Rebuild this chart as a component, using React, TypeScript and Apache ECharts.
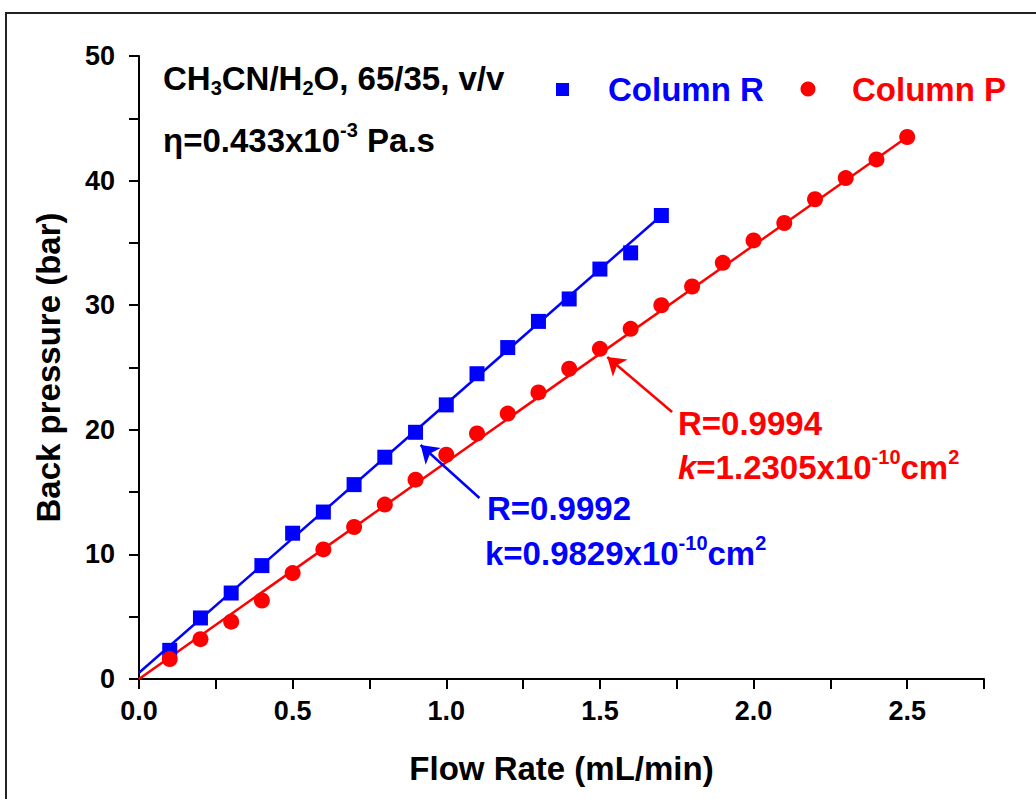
import React, { useEffect, useRef } from 'react';
import * as echarts from 'echarts';

// ---------- data ----------
const flowR = [0.1, 0.2, 0.3, 0.4, 0.5, 0.6, 0.7, 0.8, 0.9, 1.0, 1.1, 1.2, 1.3, 1.4, 1.5, 1.6, 1.7];
const pressureR = [2.3, 4.9, 6.9, 9.1, 11.7, 13.4, 15.6, 17.8, 19.8, 22.0, 24.5, 26.6, 28.7, 30.5, 32.9, 34.2, 37.2];

const flowP = [0.1, 0.2, 0.3, 0.4, 0.5, 0.6, 0.7, 0.8, 0.9, 1.0, 1.1, 1.2, 1.3, 1.4, 1.5, 1.6, 1.7, 1.8, 1.9, 2.0, 2.1, 2.2, 2.3, 2.4, 2.5];
const pressureP = [1.6, 3.2, 4.6, 6.3, 8.5, 10.4, 12.2, 14.0, 16.0, 18.0, 19.7, 21.3, 23.0, 24.9, 26.5, 28.1, 30.0, 31.5, 33.4, 35.2, 36.6, 38.5, 40.2, 41.7, 43.5];

// linear fit end points
const fitRFlow = [0, 1.7];
const fitRPressure = [0.5, 37.2];
const fitPFlow = [0, 2.5];
const fitPPressure = [0, 43.5];

const seriesNames = ['Column R', 'Column P'];

const BLUE = '#0000ff';
const RED = '#ff0000';
const FONT = '"Liberation Sans", Arial, Helvetica, sans-serif';
const TXT = 33;

const pairs = (xs: number[], ys: number[]) => xs.map((x, i) => [x, ys[i]]);

const base = (size: number, color: string) => ({
  fontSize: size,
  fontWeight: 'bold' as const,
  fontFamily: FONT,
  fill: color,
  color,
  lineHeight: 40,
});

const richSet = (color: string) => ({
  b: { ...base(TXT, color) },
  bi: { ...base(TXT, color), fontStyle: 'italic' as const },
  sup: { ...base(20, color), lineHeight: 18, verticalAlign: 'top' as const },
  sub: { ...base(20, color), lineHeight: 18, verticalAlign: 'bottom' as const },
});

const richText = (x: number, y: number, text: string, color: string) => ({
  type: 'text',
  x,
  y,
  z: 100,
  style: {
    text,
    fill: color,
    fontSize: TXT,
    fontWeight: 'bold',
    fontFamily: FONT,
    align: 'left',
    verticalAlign: 'middle',
    textAlign: 'left',
    textVerticalAlign: 'middle',
    rich: richSet(color),
  },
});

export default function App() {
  const ref = useRef<HTMLDivElement>(null);

  useEffect(() => {
    if (!ref.current) return;
    const chart = echarts.init(ref.current, null, { renderer: 'svg' });

    const option: any = {
      animation: false,
      backgroundColor: '#ffffff',
      grid: { left: 139, right: 52, top: 56, bottom: 120, containLabel: false },
      xAxis: {
        type: 'value',
        min: 0,
        max: 2.75,
        interval: 0.25,
        name: 'Flow Rate (mL/min)',
        nameLocation: 'middle',
        nameGap: 73,
        nameTextStyle: { fontSize: 33, fontWeight: 'bold', color: '#000', fontFamily: FONT },
        axisLine: { show: true, onZero: false, lineStyle: { color: '#000', width: 2 } },
        axisTick: { show: true, inside: false, length: 10, lineStyle: { color: '#000', width: 2 } },
        axisLabel: {
          margin: 18,
          fontSize: 27,
          fontWeight: 'bold',
          color: '#000',
          fontFamily: FONT,
          formatter: (v: number) => (Math.abs(v * 2 - Math.round(v * 2)) < 1e-6 ? v.toFixed(1) : ''),
        },
        splitLine: { show: false },
      },
      yAxis: {
        type: 'value',
        min: 0,
        max: 50,
        interval: 5,
        name: 'Back pressure (bar)',
        nameLocation: 'middle',
        nameGap: 74,
        nameTextStyle: { fontSize: 33, fontWeight: 'bold', color: '#000', fontFamily: FONT },
        axisLine: { show: true, onZero: false, lineStyle: { color: '#000', width: 2 } },
        axisTick: { show: true, inside: false, length: 10, lineStyle: { color: '#000', width: 2 } },
        axisLabel: {
          margin: 24,
          fontSize: 27,
          fontWeight: 'bold',
          color: '#000',
          fontFamily: FONT,
          formatter: (v: number) => (Math.round(v) % 10 === 0 ? String(v) : ''),
        },
        splitLine: { show: false },
      },
      series: [
        {
          name: 'Fit R',
          type: 'line',
          data: pairs(fitRFlow, fitRPressure),
          showSymbol: false,
          symbol: 'none',
          lineStyle: { color: BLUE, width: 2.5 },
          z: 2,
        },
        {
          name: 'Fit P',
          type: 'line',
          data: pairs(fitPFlow, fitPPressure),
          showSymbol: false,
          symbol: 'none',
          lineStyle: { color: RED, width: 2.5 },
          z: 2,
        },
        {
          name: seriesNames[0],
          type: 'scatter',
          data: pairs(flowR, pressureR),
          symbol: 'rect',
          symbolSize: 15,
          itemStyle: { color: BLUE, opacity: 1 },
          z: 3,
          markLine: {
            silent: true,
            symbol: ['none', 'arrow'],
            symbolSize: 17,
            label: { show: false },
            lineStyle: { color: BLUE, width: 2.5, type: 'solid' },
            data: [[{ coord: [1.108, 14.53] }, { coord: [0.9165, 18.78] }]],
          },
        },
        {
          name: seriesNames[1],
          type: 'scatter',
          data: pairs(flowP, pressureP),
          symbol: 'circle',
          symbolSize: 16,
          itemStyle: { color: RED, opacity: 1 },
          z: 3,
          markLine: {
            silent: true,
            symbol: ['none', 'arrow'],
            symbolSize: 17,
            label: { show: false },
            lineStyle: { color: RED, width: 2.5, type: 'solid' },
            data: [[{ coord: [1.735, 21.43] }, { coord: [1.524, 25.84] }]],
          },
        },
      ],
      graphic: [
        {
          type: 'rect',
          z: 0,
          shape: { x: 6, y: 13, width: 1200, height: 1000 },
          style: { fill: 'none', stroke: '#222', lineWidth: 2 },
          silent: true,
        },
        richText(163, 78, '{b|CH}{sub|3}{b|CN/H}{sub|2}{b|O, 65/35, v/v}', '#000'),
        richText(163, 140, '{b|η=0.433x10}{sup|-3}{b| Pa.s}', '#000'),
        // legend
        {
          type: 'rect',
          z: 100,
          shape: { x: 556, y: 83, width: 13, height: 13 },
          style: { fill: BLUE },
        },
        richText(608, 89, '{b|' + seriesNames[0] + '}', BLUE),
        {
          type: 'circle',
          z: 100,
          shape: { cx: 808, cy: 89, r: 7.5 },
          style: { fill: RED },
        },
        richText(852, 89, '{b|' + seriesNames[1] + '}', RED),
        // annotations
        richText(678, 423, '{b|R=0.9994}', RED),
        richText(678, 467, '{bi|k}{b|=1.2305x10}{sup|-10}{b|cm}{sup|2}', RED),
        richText(487, 508, '{b|R=0.9992}', BLUE),
        richText(485, 553, '{b|k=0.9829x10}{sup|-10}{b|cm}{sup|2}', BLUE),
      ],
    };

    chart.setOption(option);
    return () => chart.dispose();
  }, []);

  return (
    <div
      ref={ref}
      style={{ position: 'fixed', left: 0, top: 0, width: 1036, height: 799, background: '#fff' }}
    />
  );
}
